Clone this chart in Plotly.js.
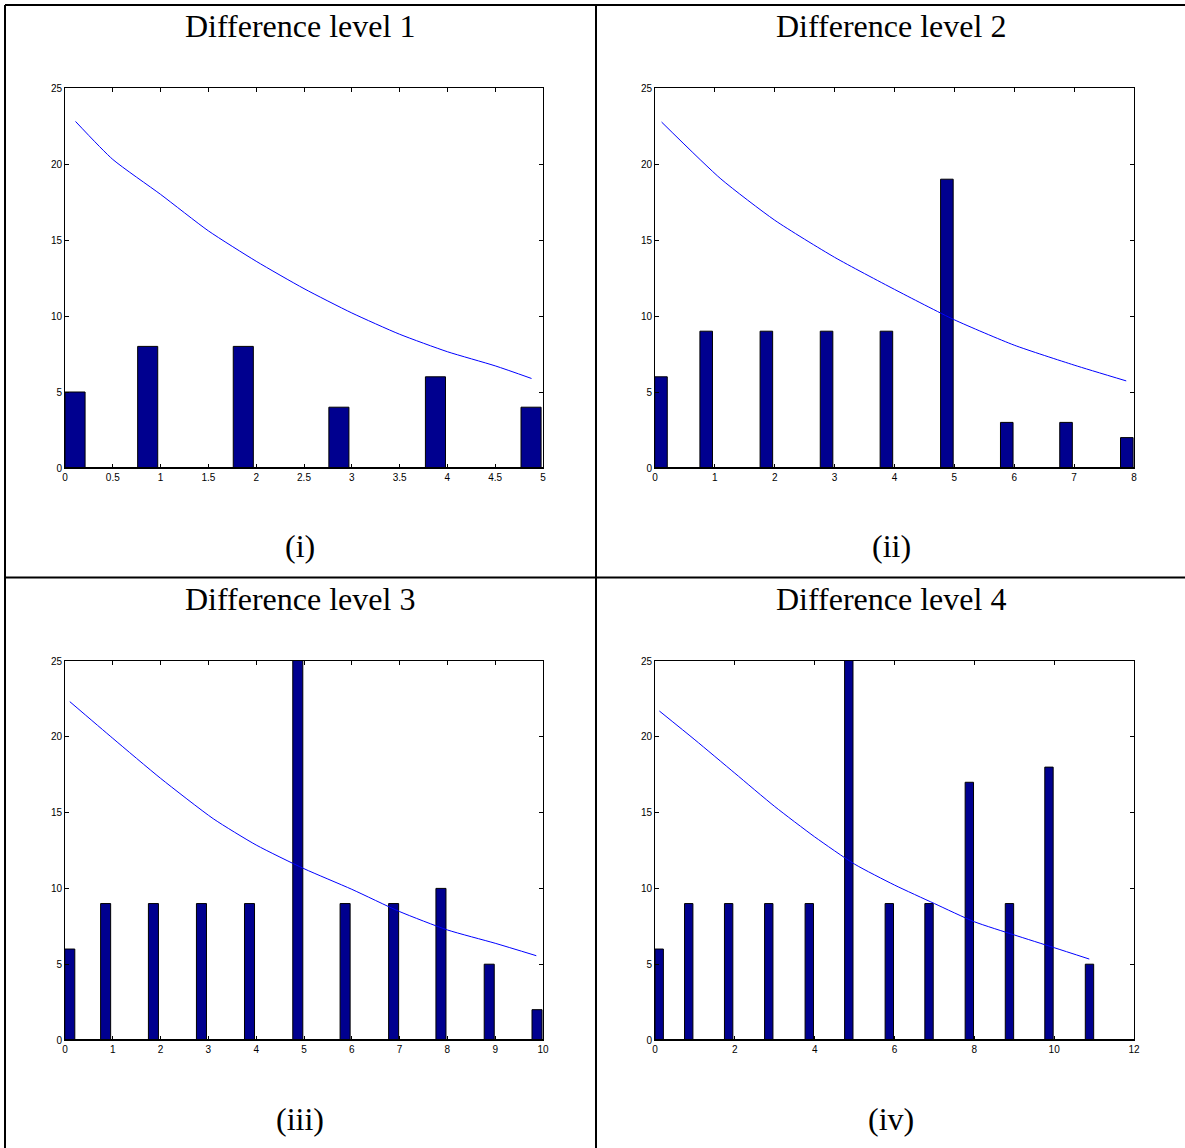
<!DOCTYPE html>
<html>
<head>
<meta charset="utf-8">
<script src="https://cdn.plot.ly/plotly-3.0.1.min.js"></script>
<style>
  html, body { margin: 0; padding: 0; background: #ffffff; }
  #chart { width: 1185px; height: 1148px; }
</style>
</head>
<body>
<div id="chart"></div>
<script>
// ---------- data ----------
var panelTitles = ["Difference level 1", "Difference level 2", "Difference level 3", "Difference level 4"];
var panelLabels = ["(i)", "(ii)", "(iii)", "(iv)"];

// Panel (i)
var bars1X = [0.105, 0.865, 1.865, 2.865, 3.875, 4.875];
var bars1Y = [5, 8, 8, 4, 6, 4];
var curve1X = [0.11, 0.5, 1.0, 1.5, 2.0, 2.5, 3.0, 3.5, 4.0, 4.5, 4.88];
var curve1Y = [22.8, 20.3, 18.0, 15.6, 13.6, 11.8, 10.2, 8.8, 7.65, 6.72, 5.89];

// Panel (ii)
var bars2X = [0.1, 0.855, 1.86, 2.865, 3.865, 4.875, 5.875, 6.865, 7.88];
var bars2Y = [6, 9, 9, 9, 9, 19, 3, 3, 2];
var curve2X = [0.11, 1.1, 2.0, 3.0, 4.0, 5.0, 6.0, 7.0, 7.87];
var curve2Y = [22.76, 19.02, 16.3, 13.86, 11.75, 9.75, 8.08, 6.77, 5.73];

// Panel (iii)
var bars3X = [0.1, 0.85, 1.85, 2.855, 3.86, 4.87, 5.86, 6.875, 7.865, 8.875, 9.875];
var bars3Y = [6, 9, 9, 9, 9, 28, 9, 9, 10, 5, 2];
var curve3X = [0.1, 1.0, 2.0, 3.1, 4.0, 5.0, 6.0, 7.0, 8.0, 9.0, 9.86];
var curve3Y = [22.32, 19.9, 17.26, 14.6, 12.86, 11.3, 9.94, 8.47, 7.26, 6.38, 5.56];

// Panel (iv)
var bars4X = [0.105, 0.845, 1.845, 2.85, 3.865, 4.855, 5.87, 6.865, 7.875, 8.88, 9.87, 10.885];
var bars4Y = [6, 9, 9, 9, 9, 28, 9, 9, 17, 9, 18, 5];
var curve4X = [0.11, 1.0, 2.0, 3.0, 4.0, 5.0, 6.0, 7.0, 8.0, 9.0, 10.0, 10.88];
var curve4Y = [21.7, 19.8, 17.6, 15.4, 13.4, 11.6, 10.22, 9.0, 7.8, 6.93, 6.09, 5.34];

var xRanges = [[0, 5], [0, 8], [0, 10], [0, 12]];
var xDticks = [0.5, 1, 1, 2];
var yRange = [0, 25];
var yDtick = 5;

// ---------- styling / layout ----------
var W = 1185, H = 1148;
var BAR_COLOR = "#00008F";
var LINE_COLOR = "#0000FF";
var BAR_WIDTH = 0.21;

var barsX = [bars1X, bars2X, bars3X, bars4X];
var barsY = [bars1Y, bars2Y, bars3Y, bars4Y];
var curvesX = [curve1X, curve2X, curve3X, curve4X];
var curvesY = [curve1Y, curve2Y, curve3Y, curve4Y];

// pixel boxes of plot areas [left, right, top, bottom]
var boxes = [
  [65, 543, 88, 468],
  [655, 1134, 88, 468],
  [65, 543, 661, 1040],
  [655, 1134, 661, 1040]
];

function px(x) { return x / W; }
function py(y) { return 1 - y / H; }

var traces = [];
var layout = {
  width: W, height: H,
  margin: {l: 0, r: 0, t: 0, b: 0},
  paper_bgcolor: "#ffffff",
  plot_bgcolor: "#ffffff",
  showlegend: false,
  bargap: 0,
  barmode: "overlay",
  font: {family: "Liberation Sans, Arial, sans-serif", size: 10, color: "#000000"},
  annotations: [],
  shapes: []
};

for (var i = 0; i < 4; i++) {
  var n = i === 0 ? "" : String(i + 1);
  var xa = "x" + n, ya = "y" + n;
  var b = boxes[i];
  traces.push({
    type: "bar", x: barsX[i], y: barsY[i], xaxis: xa, yaxis: ya,
    width: BAR_WIDTH,
    marker: {color: BAR_COLOR, line: {color: "#000000", width: 1}},
    hoverinfo: "x+y"
  });
  traces.push({
    type: "scatter", mode: "lines", x: curvesX[i], y: curvesY[i], xaxis: xa, yaxis: ya,
    line: {color: LINE_COLOR, width: 1, shape: "spline", smoothing: 0.6},
    hoverinfo: "x+y"
  });
  var common = {
    showgrid: false, zeroline: false, showline: true, linecolor: "#000000", linewidth: 1,
    mirror: "ticks", ticks: "inside", ticklen: 4, tickcolor: "#000000", tickwidth: 1,
    tickfont: {family: "Liberation Sans, Arial, sans-serif", size: 10, color: "#000000"},
    fixedrange: true
  };
  layout["xaxis" + n] = Object.assign({}, common, {
    domain: [px(b[0]), px(b[1])], anchor: ya, range: xRanges[i],
    tick0: 0, dtick: xDticks[i]
  });
  layout["yaxis" + n] = Object.assign({}, common, {
    domain: [py(b[3]), py(b[2])], anchor: xa, range: yRange,
    tick0: 0, dtick: yDtick
  });
  // heavier baseline (edges of empty histogram bins)
  layout.shapes.push({
    type: "line", xref: xa + " domain", yref: ya + " domain",
    x0: 0, x1: 1, y0: 0, y1: 0, line: {color: "#000000", width: 2}
  });
}

// titles and captions
var titlePos = [[300, 26], [891, 26], [300, 599], [891, 599]];
var labelPos = [[300, 546], [891, 546], [300, 1119], [891, 1119]];
for (var k = 0; k < 4; k++) {
  layout.annotations.push({
    text: panelTitles[k], xref: "paper", yref: "paper",
    x: px(titlePos[k][0]), y: py(titlePos[k][1]), xanchor: "center", yanchor: "middle",
    showarrow: false, font: {family: "Liberation Serif, Times New Roman, serif", size: 32, color: "#000000"}
  });
  layout.annotations.push({
    text: panelLabels[k], xref: "paper", yref: "paper",
    x: px(labelPos[k][0]), y: py(labelPos[k][1]), xanchor: "center", yanchor: "middle",
    showarrow: false, font: {family: "Liberation Serif, Times New Roman, serif", size: 32, color: "#000000"}
  });
}

// table frame lines
var frameLine = {color: "#000000", width: 2};
layout.shapes.push({type: "line", xref: "paper", yref: "paper", x0: px(5), x1: px(1185), y0: py(5), y1: py(5), line: frameLine});
layout.shapes.push({type: "line", xref: "paper", yref: "paper", x0: px(5), x1: px(5), y0: py(5), y1: py(1148), line: frameLine});
layout.shapes.push({type: "line", xref: "paper", yref: "paper", x0: px(596), x1: px(596), y0: py(5), y1: py(1148), line: frameLine});
layout.shapes.push({type: "line", xref: "paper", yref: "paper", x0: px(5), x1: px(1185), y0: py(577.5), y1: py(577.5), line: frameLine});

Plotly.newPlot("chart", traces, layout, {displayModeBar: false, staticPlot: true});
</script>
</body>
</html>
